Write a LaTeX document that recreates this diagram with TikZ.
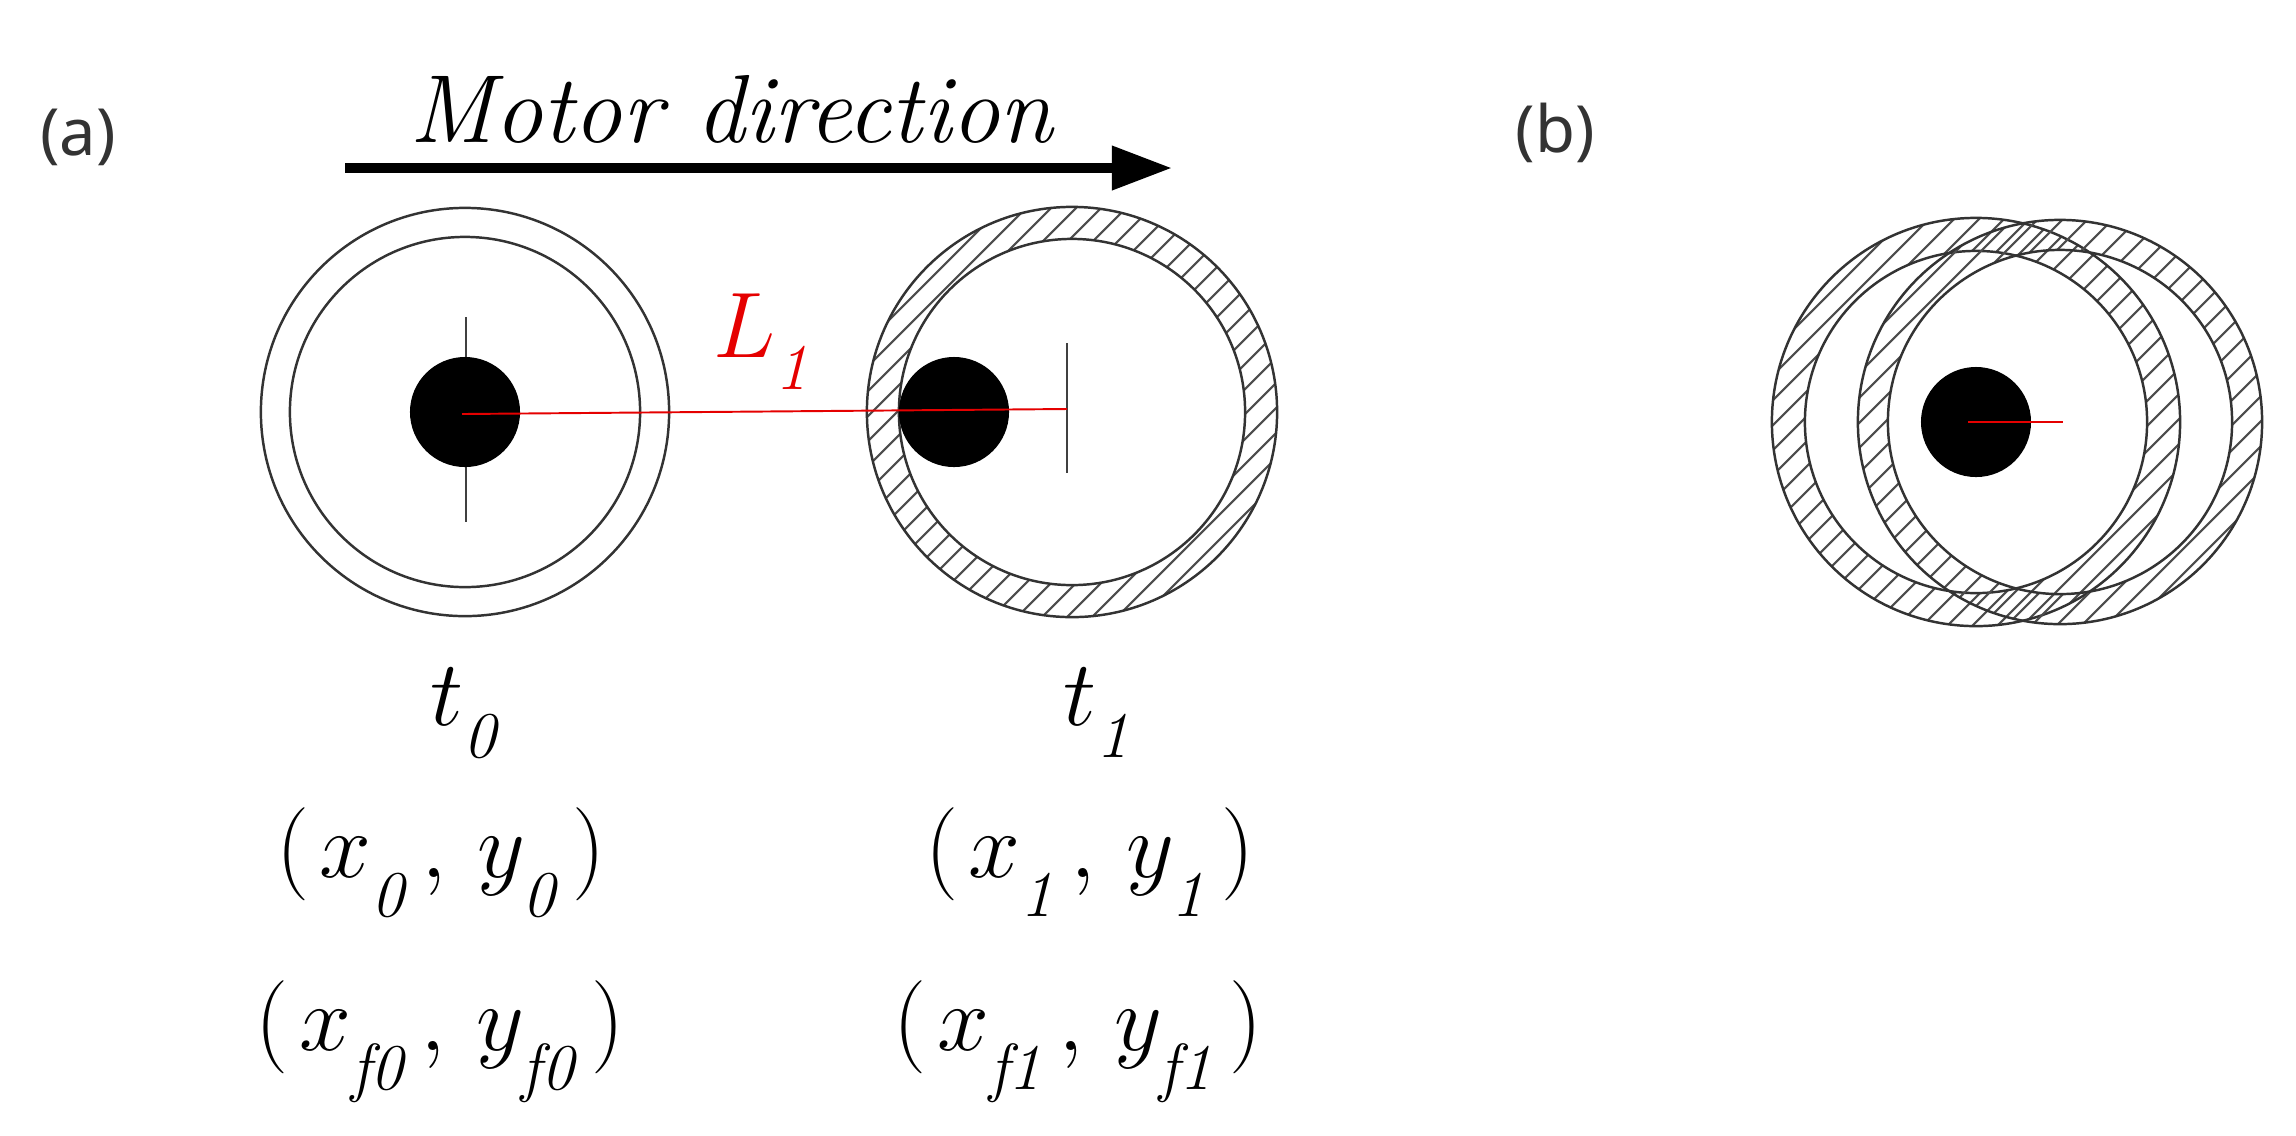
\RequirePackage{fix-cm}
\documentclass[tikz,border=0pt]{standalone}
\usepackage{fontspec}
\newfontfamily\labsans{Noto Sans}
\usetikzlibrary{arrows.meta}
\newcommand{\isub}[2][0.2em]{_{\lower#1\hbox{$\scriptstyle\mathit{#2}$}}}
\newcommand{\csub}[1]{\isub[0.27em]{#1}}
\tikzset{
  ringline/.style={draw=black!80, line width=0.7pt},
  hatchline/.style={draw=black!70, line width=0.6pt},
  tickline/.style={draw=black!75, line width=0.45pt},
  redline/.style={draw=red!90!black, line width=0.55pt},
  dotfill/.style={fill=black},
  mtext/.style={font=\fontsize{26.5}{30}\selectfont, inner sep=0pt},
  labtext/.style={font=\labsans\fontsize{18.5}{22}\selectfont, text=black!80, inner sep=0pt},
  motortext/.style={font=\fontsize{27.5}{30}\selectfont\itshape, inner sep=0pt},
}
\newcommand{\hatchring}[3]{%
  \begin{scope}[even odd rule]
    \clip (#1) circle[radius=#2] (#1) circle[radius=#3];
    \foreach \i in {-20,...,20}
      \draw[hatchline, shift={(#1)}] (\i*25-330,330) -- (\i*25+330,-330);
  \end{scope}
  \draw[ringline] (#1) circle[radius=#2];
  \draw[ringline] (#1) circle[radius=#3];
}
\begin{document}
\begin{tikzpicture}[x=0.01cm, y=-0.01cm]
  \useasboundingbox (0,0) rectangle (2296,1135);
  \fill[white] (0,0) rectangle (2296,1135);

  % panel labels
  \node[labtext, anchor=base] (lbla) at (78,155) {(a)};
  \node[labtext, anchor=base] (lblb) at (1555,152) {(b)};

  % motor direction arrow
  \node[motortext, anchor=base] (motor) at (731,142) {Motor direction};
  \coordinate (arrS) at (345,168);
  \coordinate (arrE) at (1172,168);
  \draw[line width=2.85pt, -{Triangle[length=0.6cm,width=0.42cm]}] (arrS) -- (arrE);

  % ---- (a) left ring at t0
  \coordinate (c0) at (465,412);
  \draw[ringline] (c0) circle[radius=2.04cm];
  \draw[ringline] (c0) circle[radius=1.75cm];
  \coordinate (v0a) at (466,317);
  \coordinate (v0b) at (466,522);
  \draw[tickline] (v0a) -- (v0b);
  \fill[dotfill] (c0) circle[radius=0.55cm];

  % ---- (a) right ring at t1 (hatched)
  \coordinate (c1) at (1072,412);
  \hatchring{c1}{2.05cm}{1.73cm}
  \coordinate (v1a) at (1067,343);
  \coordinate (v1b) at (1067,473);
  \draw[tickline] (v1a) -- (v1b);
  \coordinate (d1) at (954,412);
  \fill[dotfill] (d1) circle[radius=0.55cm];

  % L1 distance
  \coordinate (l0) at (462,414);
  \coordinate (l1) at (1067,409);
  \draw[redline] (l0) -- (l1);
  \node[mtext, anchor=base, text=red!90!black] (L1) at (762,357) {$L\isub{1}$};

  % labels below
  \node[mtext, anchor=base] (t0) at (464,725) {$t\isub{0}$};
  \node[mtext, anchor=base] (t1) at (1097,725) {$t\isub{1}$};
  \node[mtext, anchor=base] (p0) at (441,877) {$(\mkern2mu x\csub{0}\,,\,y\csub{0}\,)$};
  \node[mtext, anchor=base] (p1) at (1090,877) {$(\mkern2mu x\csub{1}\,,\,y\csub{1}\,)$};
  \node[mtext, anchor=base] (f0) at (440,1050) {$(\mkern2mu x\csub{f0}\,,\,y\csub{f0}\,)$};
  \node[mtext, anchor=base] (f1) at (1078,1050) {$(\mkern2mu x\csub{f1}\,,\,y\csub{f1}\,)$};

  % ---- (b) overlapping rings
  \coordinate (b0) at (1976,422);
  \coordinate (b1) at (2060,422);
  \hatchring{b0}{2.04cm}{1.71cm}
  \hatchring{b1}{2.02cm}{1.72cm}
  \fill[dotfill] (b0) circle[radius=0.55cm];
  \coordinate (br0) at (1968,422);
  \coordinate (br1) at (2063,422);
  \draw[redline] (br0) -- (br1);
\end{tikzpicture}
\end{document}
